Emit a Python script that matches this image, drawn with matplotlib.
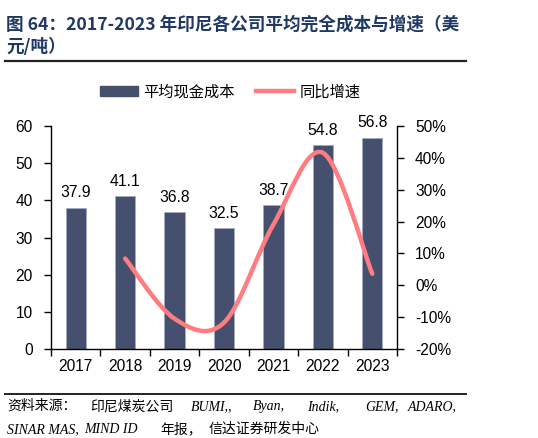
import matplotlib
matplotlib.use("Agg")
import matplotlib.pyplot as plt
from matplotlib.patches import Patch, PathPatch
from matplotlib.lines import Line2D
from matplotlib.path import Path

plt.rcParams['font.family'] = ['Liberation Sans', 'Noto Sans CJK SC', 'DejaVu Sans']

years = ["2017", "2018", "2019", "2020", "2021", "2022", "2023"]
cost = [37.9, 41.1, 36.8, 32.5, 38.7, 54.8, 56.8]
growth_years_idx = [1, 2, 3, 4, 5, 6]
growth = [8.4, -10.5, -11.7, 19.1, 41.6, 3.6]

bar_color = '#454F6E'
line_color = '#FF7C80'
title_color = '#1F3864'

W, H = 538, 438
fig = plt.figure(figsize=(W / 100, H / 100), dpi=100)
ax = fig.add_axes([51 / W, 1 - 349 / H, (397 - 51) / W, (349 - 126) / H])
ax2 = ax.twinx()

x = list(range(len(years)))
ax.bar(x, cost, width=0.41, color=bar_color, edgecolor='#A3AAC2', linewidth=0.6, zorder=2)
for xi, v in zip(x, cost):
    ax.annotate(f"{v:.1f}", (xi, v), xytext=(0, 5.5), textcoords='offset points',
                ha='center', va='bottom', fontsize=11.3, color='black')

ax.set_xlim(-0.5, 6.5)
ax.set_ylim(0, 60)
ax.set_yticks(range(0, 61, 10))
ax.set_xticks(x)
ax.set_xticklabels(years)
ax.set_xticks([i + 0.5 for i in range(-1, 7)], minor=True)
ax.tick_params(axis='x', which='major', length=0, labelsize=11.2, pad=7)
ax.tick_params(axis='x', which='minor', length=5, width=1, direction='out')
ax.tick_params(axis='y', length=5, width=1, direction='out', labelsize=11.2, pad=8)
for s in ['top', 'right']:
    ax.spines[s].set_visible(False)
ax.spines['left'].set_linewidth(1)
ax.spines['bottom'].set_linewidth(1)

ax2.set_ylim(-20, 50)
ax2.set_yticks(range(-20, 51, 10))
ax2.set_yticklabels([f"{t}%" for t in range(-20, 51, 10)])
ax2.tick_params(axis='y', length=5, width=1, direction='out', labelsize=11.2, pad=8)
for s in ['top', 'left', 'bottom']:
    ax2.spines[s].set_visible(False)
ax2.spines['right'].set_linewidth(1)

# smoothed line (Catmull-Rom -> cubic Bezier) through the growth points
pts = list(zip(growth_years_idx, growth))
verts = [pts[0]]
codes = [Path.MOVETO]
n = len(pts)
for i in range(n - 1):
    p0 = pts[i - 1] if i > 0 else pts[i]
    p1 = pts[i]
    p2 = pts[i + 1]
    p3 = pts[i + 2] if i + 2 < n else pts[i + 1]
    c1 = (p1[0] + (p2[0] - p0[0]) / 6, p1[1] + (p2[1] - p0[1]) / 6)
    c2 = (p2[0] - (p3[0] - p1[0]) / 6, p2[1] - (p3[1] - p1[1]) / 6)
    verts += [c1, c2, p2]
    codes += [Path.CURVE4] * 3
patch = PathPatch(Path(verts, codes), facecolor='none', edgecolor=line_color,
                  linewidth=3.2, capstyle='round', zorder=3)
ax2.add_patch(patch)

# legend
handles = [Patch(facecolor=bar_color, edgecolor=bar_color),
           Line2D([0], [0], color=line_color, linewidth=3.2)]
fig.legend(handles, ["平均现金成本", "同比增速"], loc='center', ncol=2,
           bbox_to_anchor=(230 / W, 1 - 92 / H), frameon=False,
           handlelength=2.5, handleheight=0.55, handletextpad=0.35, columnspacing=1.4,
           prop={'family': ['Noto Sans CJK SC'], 'size': 11})

# title
fig.text(6 / W, 1 - 25 / H, "图 64：2017-2023 年印尼各公司平均完全成本与增速（美",
         fontsize=12.7, fontweight='bold', color=title_color, va='center', ha='left',
         family=['Noto Sans CJK SC'])
fig.text(6 / W, 1 - 47 / H, "元/吨）",
         fontsize=12.7, fontweight='bold', color=title_color, va='center', ha='left',
         family=['Noto Sans CJK SC'])
fig.add_artist(Line2D([5 / W, 466 / W], [1 - 61 / H, 1 - 61 / H], color='#222222', linewidth=1.6))

# source
fig.add_artist(Line2D([5 / W, 466 / W], [1 - 393.5 / H, 1 - 393.5 / H], color='#222222', linewidth=1.4))
src_fam = ['Liberation Serif', 'Noto Sans CJK SC']
line1 = [("资料来源：", 7), ("印尼煤炭公司", 90), ("BUMI,,", 191), ("Byan,", 253), ("Indik,", 307),
         ("GEM,", 365), ("ADARO,", 408)]
line2 = [("SINAR MAS,", 7), ("MIND ID", 84), ("年报，", 160), ("信达证券研发中心", 209)]
for txt, px in line1:
    fig.text(px / W, 1 - 410 / H, txt, fontsize=10, color='black',
             va='baseline', ha='left', style='italic', family=src_fam)
for txt, px in line2:
    fig.text(px / W, 1 - 433 / H, txt, fontsize=10, color='black',
             va='baseline', ha='left', style='italic', family=src_fam)

fig.savefig("out.png", dpi=100)
